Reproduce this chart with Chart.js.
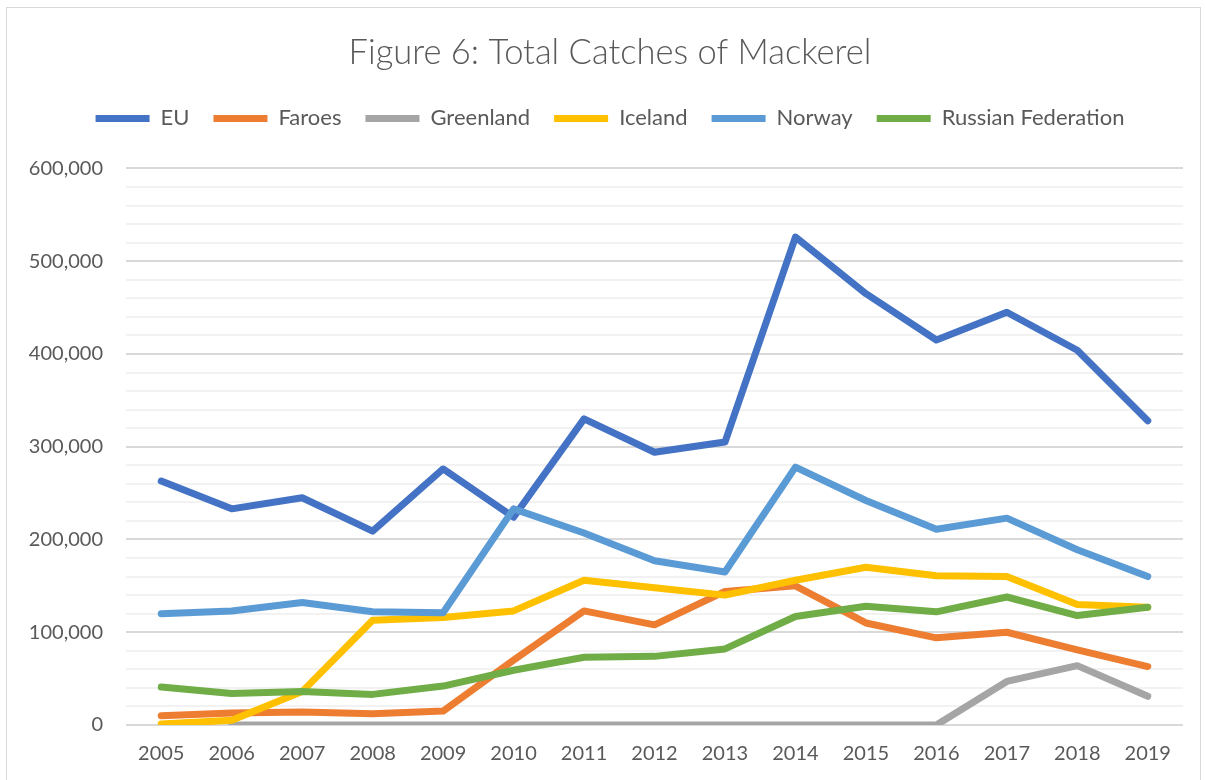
<!DOCTYPE html>
<html>
<head>
<meta charset="utf-8">
<script src="https://cdn.jsdelivr.net/npm/chart.js@4"></script>
<style>
  html, body { margin: 0; padding: 0; background: #fff; }
  #frame { position: absolute; left: 6px; top: 7px; width: 1193px; height: 800px; border: 1px solid #d9d9d9; }
  #wrap { position: absolute; left: 0; top: 0; width: 1205px; height: 780px; }
</style>
</head>
<body>
<div id="frame"></div>
<div id="wrap"><canvas id="mackerelChart" width="1205" height="780"></canvas></div>
<script>
// DATA
const years = ['2005', '2006', '2007', '2008', '2009', '2010', '2011', '2012', '2013', '2014', '2015', '2016', '2017', '2018', '2019'];
const eu = [263000, 233000, 245000, 209000, 276000, 224000, 330000, 294000, 305000, 526000, 465000, 415000, 445000, 404000, 328000];
const faroes = [10000, 13000, 14000, 12000, 15000, 70000, 123000, 108000, 144000, 150000, 110000, 94000, 100000, 81000, 63000];
const greenland = [null, 0, 0, 0, 0, 0, 0, 0, 0, 0, 0, 0, 47000, 64000, 31000];
const iceland = [1000, 5000, 36000, 113000, 116000, 123000, 156000, 148000, 140000, 156000, 170000, 161000, 160000, 130000, 127000];
const norway = [120000, 123000, 132000, 122000, 121000, 233000, 207000, 177000, 165000, 278000, 242000, 211000, 223000, 189000, 160000];
const russia = [41000, 34000, 36000, 33000, 42000, 59000, 73000, 74000, 82000, 117000, 128000, 122000, 138000, 118000, 127000];

const seriesNames = ['EU', 'Faroes', 'Greenland', 'Iceland', 'Norway', 'Russian Federation'];
const seriesColors = ['#4472C4', '#ED7D31', '#A5A5A5', '#FFC000', '#5B9BD5', '#70AD47'];
const seriesValues = [eu, faroes, greenland, iceland, norway, russia];

const textColor = '#595959';
const fontFamily = 'Lato, "Open Sans", sans-serif';

window.addEventListener('DOMContentLoaded', () => {
  const datasets = seriesNames.map((name, i) => ({
    label: name,
    data: seriesValues[i],
    borderColor: seriesColors[i],
    backgroundColor: seriesColors[i],
    borderWidth: 7,
    borderCapStyle: 'round',
    borderJoinStyle: 'round',
    pointRadius: 0,
    tension: 0,
    order: seriesNames.length - i   // later series on top, like excel
  }));

  const config = {
    type: 'line',
    data: { labels: years, datasets: datasets },
    options: {
      responsive: false,
      animation: false,
      layout: { padding: { left: 15, right: 0, top: 0, bottom: 14 } },
      scales: {
        x: {
          offset: true,
          grid: { display: false },
          border: { display: false },
          ticks: { color: textColor, padding: 9, font: { family: fontFamily, size: 20 }, maxRotation: 0 },
          afterFit: (scale) => { scale.height = 41; }
        },
        y: {
          min: 0,
          max: 600000,
          border: { display: false },
          grid: {
            drawTicks: false,
            lineWidth: 2,
            color: (ctx) => (ctx.tick && ctx.tick.value % 100000 === 0) ? '#d9d9d9' : '#f2f2f2'
          },
          ticks: {
            stepSize: 20000,
            autoSkip: false,
            padding: 23,
            color: textColor,
            font: { family: fontFamily, size: 20 },
            callback: (v) => v % 100000 === 0 ? v.toLocaleString('en-US') : ''
          },
          afterFit: (scale) => { scale.width = 111; }
        },
        // empty right-hand spacer so the title and legend centre like the original
        yRight: {
          position: 'right',
          grid: { display: false },
          border: { display: false },
          ticks: { display: false },
          afterFit: (scale) => { scale.width = 22; }
        }
      },
      plugins: {
        tooltip: { enabled: false },
        title: {
          display: true,
          text: 'Figure 6: Total Catches of Mackerel',
          color: textColor,
          font: { family: fontFamily, size: 34.5, weight: '300' },
          padding: { top: 32, bottom: 10 }
        },
        // blank spacer between legend and plot
        subtitle: {
          display: true,
          text: ' ',
          weight: 500,
          font: { size: 24.2 },
          padding: 0
        },
        legend: {
          display: true,
          labels: {
            color: textColor,
            font: { family: fontFamily, size: 22 },
            boxWidth: 54,
            boxHeight: 7,
            padding: 24,
            useBorderRadius: true,
            borderRadius: 3,
            sort: (a, b) => a.datasetIndex - b.datasetIndex,
            generateLabels: (chart) => chart.data.datasets.map((ds, i) => ({
              text: ds.label,
              fillStyle: ds.borderColor,
              strokeStyle: ds.borderColor,
              lineWidth: 0,
              fontColor: textColor,
              hidden: false,
              datasetIndex: i
            }))
          }
        }
      }
    }
  };

  const mackerelChart = new Chart(document.getElementById('mackerelChart'), config);
});
</script>
</body>
</html>
